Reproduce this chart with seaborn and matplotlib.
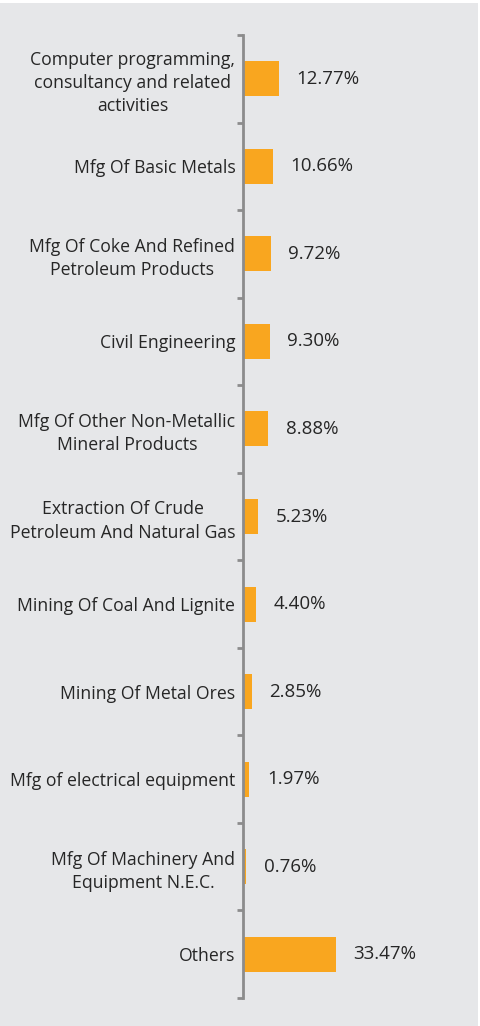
import matplotlib
matplotlib.use("Agg")
import matplotlib.pyplot as plt
import seaborn as sns
import pandas as pd
from matplotlib.patches import Rectangle

sectors = [
    "Computer programming,\nconsultancy and related\nactivities",
    "Mfg Of Basic Metals",
    "Mfg Of Coke And Refined\nPetroleum Products",
    "Civil Engineering",
    "Mfg Of Other Non-Metallic\nMineral Products",
    "Extraction Of Crude\nPetroleum And Natural Gas",
    "Mining Of Coal And Lignite",
    "Mining Of Metal Ores",
    "Mfg of electrical equipment",
    "Mfg Of Machinery And\nEquipment N.E.C.",
    "Others",
]
shares = [12.77, 10.66, 9.72, 9.30, 8.88, 5.23, 4.40, 2.85, 1.97, 0.76, 33.47]

df = pd.DataFrame({"sector": sectors, "share": shares})

sns.set_theme(style="white")
plt.rcParams["font.family"] = ["Open Sans", "DejaVu Sans"]

W, H = 481, 1026
fig = plt.figure(figsize=(W / 100, H / 100), dpi=100, facecolor="white")

# grey panel behind the chart
fig.patches.append(Rectangle((0, 0), 478 / W, (H - 3) / H, transform=fig.transFigure,
                             facecolor="#e6e7e9", edgecolor="none", zorder=-10))

ax_left, ax_right = 243 / W, 478 / W
ax_top, ax_bot = (H - 35) / H, (H - 998) / H
ax = fig.add_axes([ax_left, ax_bot, ax_right - ax_left, ax_top - ax_bot])
ax.set_zorder(1)
ax.set_facecolor("none")

bar_color = "#f9a61f"
sns.barplot(data=df, y="sector", x="share", orient="h", color=bar_color,
            width=0.4, ax=ax, saturation=1, edgecolor="none", linewidth=0)

px_per_pct = 2.75
ax.set_xlim(-0.4, (478 - 243) / px_per_pct)
ax.set_ylim(len(sectors) - 0.5, -0.5)

text_color = "#262626"
for i, v in enumerate(shares):
    ax.annotate(f"{v:.2f}%", xy=(v, i), xytext=(12.5, 0), textcoords="offset points",
                va="center", ha="left", fontsize=13.5, color=text_color)

# category labels at bar centres, boundary ticks as minor ticks
ax.set_yticks(range(len(sectors)))
ax.set_yticklabels(sectors, fontsize=12.7, color=text_color, linespacing=1.36,
                   multialignment="center")
ax.tick_params(axis="y", which="major", length=0, pad=5.5)
ax.set_yticks([i - 0.5 for i in range(len(sectors) + 1)], minor=True)
ax.tick_params(axis="y", which="minor", left=True, length=4, width=2, color="#8c8c8c")

ax.set_xticks([])
ax.set_xlabel("")
ax.set_ylabel("")
for s in ["top", "right", "bottom"]:
    ax.spines[s].set_visible(False)
ax.spines["left"].set_color("#8c8c8c")
ax.spines["left"].set_linewidth(2)

fig.savefig("out.png", dpi=100, facecolor="white")
